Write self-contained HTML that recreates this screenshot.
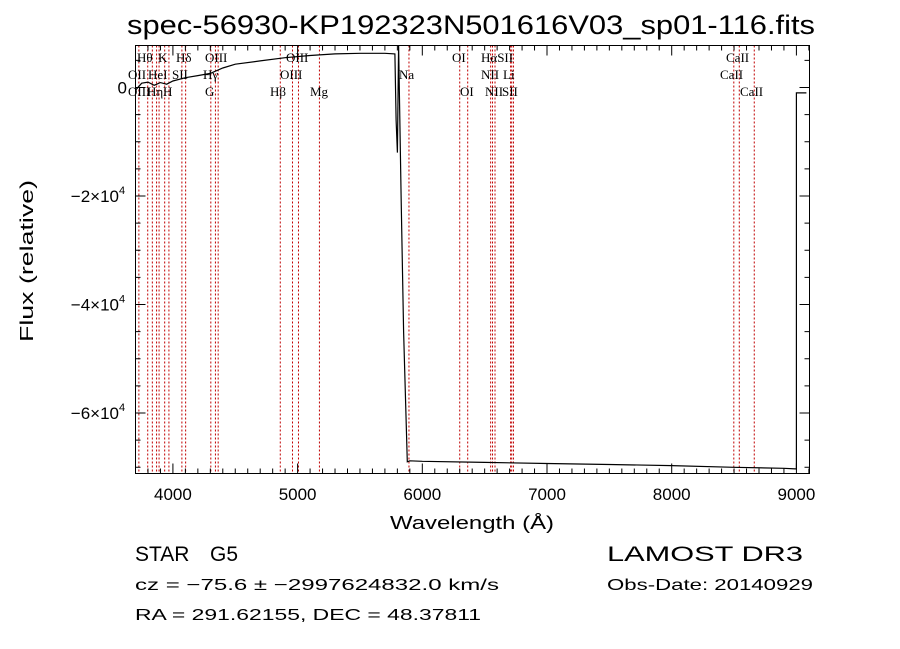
<!DOCTYPE html>
<html><head><meta charset="utf-8"><style>
body{margin:0;background:#fff}
svg{display:block}
text{font-family:"Liberation Sans",sans-serif;fill:#000}
.ln{font-family:"Liberation Serif",serif;font-size:13px}
</style></head><body>
<svg id="c" width="900" height="649" viewBox="0 0 900 649">
<text x="127" y="34" font-size="27" textLength="688" lengthAdjust="spacingAndGlyphs">spec-56930-KP192323N501616V03_sp01-116.fits</text>
<g id="lines"></g>
<g id="ticks"></g>
<path id="spec" fill="none" stroke="#000" stroke-width="1.2"/>
<rect x="135.5" y="45.5" width="674" height="428" fill="none" stroke="#000"/>
<text x="390" y="529" font-size="18" textLength="164" lengthAdjust="spacingAndGlyphs">Wavelength (Å)</text>
<text transform="translate(33,342) rotate(-90)" font-size="18" textLength="162" lengthAdjust="spacingAndGlyphs">Flux (relative)</text>
<text x="135" y="561" font-size="21">STAR</text>
<text x="210" y="561" font-size="21">G5</text>
<text x="607" y="561" font-size="21" textLength="196" lengthAdjust="spacingAndGlyphs">LAMOST DR3</text>
<text x="135" y="590" font-size="16" textLength="364" lengthAdjust="spacingAndGlyphs">cz = −75.6 ± −2997624832.0 km/s</text>
<text x="607" y="590" font-size="16" textLength="206" lengthAdjust="spacingAndGlyphs">Obs-Date: 20140929</text>
<text x="135" y="620" font-size="16" textLength="346" lengthAdjust="spacingAndGlyphs">RA = 291.62155, DEC =  48.37811</text>
</svg>
<script>
const wave=[3700,3750,3800,3850,3900,3950,4000,4100,4200,4300,4400,4500,4700,4900,5100,5300,5500,5700,5780,5790,5800,5810,5830,5850,5880,5900,6000,6500,7000,7500,8000,8500,8900,8990,9000,9000,9080];
const flux=[-500,800,1000,400,900,600,1200,1800,2200,2600,3600,4300,4900,5500,5900,6200,6300,6300,6200,-6000,-12000,7700,-20000,-45000,-69000,-68800,-68900,-69100,-69300,-69500,-69700,-70000,-70200,-70300,-70300,-1000,-1000];
const lineWave=[3727,3798,3835,3869,3889,3934,3968,4072,4102,4304,4341,4363,4861,4959,5007,5175,5893,6300,6364,6548,6563,6583,6708,6717,6731,8498,8542,8662];
const labels=[["Hθ",137,62],["K",158,62],["Hδ",176,62],["OIII",205,62],["OIII",286,62],["OI",452,62],["HαSII",481,62],["CaII",726,62],
["OII",128,79],["HeI",148,79],["SII",172,79],["Hγ",203,79],["OIII",280,79],["Na",399,79],["NII",481,79],["Li",503,79],["CaII",720,79],
["OIII",128,96],["Hη",147,96],["H",163,96],["G",205,96],["Hβ",270,96],["Mg",310,96],["OI",460,96],["NII",485,96],["SII",502,96],["CaII",740,96]];
const xTicks=[4000,5000,6000,7000,8000,9000];
const yTicks=[0,-20000,-40000,-60000];
const yTickLabels=["0","−2×10","−4×10","−6×10"];
const X0=135.5,X1=809.5,Y0=45.5,Y1=473.5;
const wMin=3700,wMax=9105,fMax=7740,fMin=-71150;
const sx=w=>X0+(w-wMin)/(wMax-wMin)*(X1-X0);
const sy=f=>Y0+(fMax-f)/(fMax-fMin)*(Y1-Y0);
const NS="http://www.w3.org/2000/svg";
function mk(t,a,p){const e=document.createElementNS(NS,t);for(const k in a)e.setAttribute(k,a[k]);p.appendChild(e);return e;}
const L=document.getElementById('lines'),T=document.getElementById('ticks');
lineWave.forEach(w=>{const e=mk('line',{x1:sx(w),x2:sx(w),y1:Y0,y2:Y1,stroke:'#c00000','stroke-dasharray':'2,2','stroke-width':1},L);

});
labels.forEach(l=>{const e=mk('text',{x:l[1],y:l[2],class:'ln'},L);e.textContent=l[0];

});
for(let w=3800;w<=9100;w+=100){const maj=w%1000===0,h=maj?10:5,x=sx(w);
mk('line',{x1:x,x2:x,y1:Y1,y2:Y1-h,stroke:'#000'},T);mk('line',{x1:x,x2:x,y1:Y0,y2:Y0+h,stroke:'#000'},T);}
xTicks.forEach(w=>{const e=mk('text',{x:sx(w),y:500,'font-size':17,'text-anchor':'middle'},T);e.textContent=w;

});
for(let f=5000;f>=-70000;f-=5000){const maj=f%20000===0,h=maj?10:5,y=sy(f);
mk('line',{x1:X0,x2:X0+h,y1:y,y2:y,stroke:'#000'},T);mk('line',{x1:X1,x2:X1-h,y1:y,y2:y,stroke:'#000'},T);}
yTicks.forEach((f,i)=>{const y=sy(f);
if(f===0){const e=mk('text',{x:127,y:y+6,'font-size':17,'text-anchor':'end'},T);e.textContent='0';

}
else{const e=mk('text',{x:119,y:y+6,'font-size':17,'text-anchor':'end'},T);e.textContent=yTickLabels[i];


const s=mk('text',{x:119,y:y-2,'font-size':11},T);s.textContent='4';}});
document.getElementById('spec').setAttribute('d',wave.map((w,i)=>(i?'L':'M')+sx(w).toFixed(1)+','+sy(flux[i]).toFixed(1)).join(''));
</script>
</body></html>
